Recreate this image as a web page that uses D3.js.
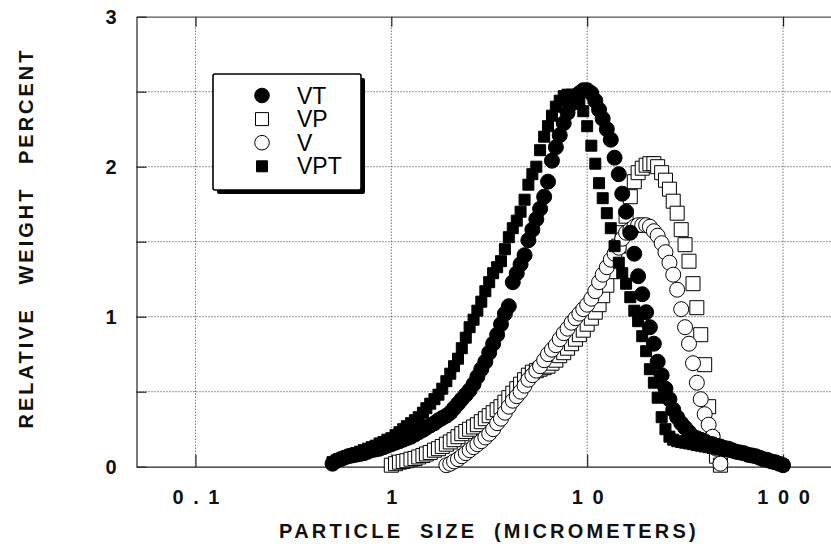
<!DOCTYPE html>
<html><head><meta charset="utf-8">
<script src="https://cdn.jsdelivr.net/npm/d3@7/dist/d3.min.js"></script>
<style>
body{margin:0;background:#fff}
svg{display:block}
text{font-family:"Liberation Sans",Arial,Helvetica,sans-serif}
</style>
</head><body>
<svg id="c" width="831" height="544"></svg>
<script>
// Particle size channels (micrometers)
const sizes=[0.501,0.525,0.550,0.575,0.603,0.631,0.661,0.692,0.724,0.759,0.794,0.832,0.871,0.912,0.955,
1.00,1.05,1.10,1.15,1.20,1.26,1.32,1.38,1.45,1.51,1.58,1.66,1.74,1.82,1.91,2.00,2.09,2.19,2.29,2.40,2.51,2.63,2.75,2.88,3.02,3.16,3.31,3.47,3.63,3.80,3.98,4.17,4.37,4.57,4.79,5.01,5.25,5.50,5.75,6.03,6.31,6.61,6.92,7.24,7.59,7.94,8.32,8.71,9.12,9.55,
10.0,10.5,11.0,11.5,12.0,12.6,13.2,13.8,14.5,15.1,15.8,16.6,17.4,18.2,19.1,20.0,20.9,21.9,22.9,24.0,25.1,26.3,27.5,28.8,30.2,31.6,33.1,34.7,36.3,38.0,39.8,41.7,43.7,45.7,47.9,50.1,52.5,55.0,57.5,60.3,63.1,66.1,69.2,72.4,75.9,79.4,83.2,87.1,91.2,95.5,100];

const VT=[0.02,0.04,0.05,0.06,0.07,0.075,0.08,0.085,0.09,0.10,0.11,0.115,0.12,0.13,0.14,
0.15,0.16,0.17,0.18,0.19, 0.20,0.215,0.23,0.245,0.26, 0.275,0.29,0.31,0.325,0.34, 0.36,0.39,0.42,0.45,0.48, 0.51,0.55,0.60,0.65,0.70, 0.76,0.82,0.88,0.95,1.02, 1.07,1.23,1.29,1.35,1.41, 1.51,1.58,1.65,1.72,1.80, 1.90,2.04,2.13,2.21,2.29, 2.36,2.42,2.46,2.49,2.51,
2.51,2.49,2.44,2.38,2.32, 2.25,2.18,2.06,1.95,1.82, 1.70,1.56,1.42,1.27,1.15, 1.03,0.93,0.82,0.70,0.61, 0.52,0.45,0.38,0.33,0.29, 0.26,0.23,0.20,0.19,0.18, 0.17,0.155,0.15,0.14,0.135, 0.125,0.12,0.11,0.10,0.095, 0.09,0.08,0.075,0.07,0.06, 0.05,0.045,0.035,0.03,0.02, 0.01];

const VPT=[0.03,0.04,0.05,0.06,0.07,0.08,0.09,0.10,0.11,0.12,0.13,0.14,0.155,0.165,0.18,
0.19,0.21,0.23,0.25,0.27, 0.29,0.31,0.33,0.36,0.39, 0.42,0.45,0.48,0.52,0.57, 0.62,0.67,0.72,0.79,0.86, 0.93,0.98,1.04,1.10,1.17, 1.23,1.29,1.33,1.37,1.45, 1.53,1.59,1.64,1.70,1.78, 1.88,1.95,2.00,2.11,2.20, 2.27,2.34,2.40,2.44,2.47, 2.48,2.48,2.46,2.42,2.37,
2.27,2.14,2.02,1.89,1.79, 1.69,1.59,1.47,1.36,1.29, 1.22,1.13,1.04,0.97,0.87, 0.77,0.65,0.56,0.46,0.33, 0.25,0.20,0.18,0.17,0.165, 0.16,0.155,0.15,0.145,0.14, 0.135,0.13,0.125,0.12,0.115, 0.11,0.105,0.10,0.095,0.09, 0.085,0.08,0.07,0.065,0.06, 0.05,0.045,0.035,0.03,0.02, 0.01];

const VP=[null,null,null,null,null,null,null,null,null,null,null,null,null,null,null,
0.01,0.02,0.03,0.035,0.04, 0.05,0.055,0.065,0.075,0.085, 0.095,0.11,0.12,0.135,0.15, 0.165,0.18,0.20,0.22,0.235, 0.25,0.265,0.28,0.30,0.32, 0.34,0.36,0.38,0.40,0.43, 0.46,0.49,0.52,0.55,0.58, 0.61,0.63,0.64,0.65,0.66, 0.67,0.69,0.71,0.74,0.76, 0.79,0.82,0.85,0.88,0.91,
0.95,0.99,1.03,1.08,1.14, 1.21,1.30,1.39,1.47,1.56, 1.67,1.80,1.90,1.96,1.99, 2.01,2.02,2.02,2.00,1.96, 1.91,1.85,1.77,1.69,1.58, 1.48,1.37,1.22,1.06,0.88, 0.68,0.40,0.18,0.07,0.01,
null,null,null,null,null,null,null,null,null,null,null,null,null,null,null,null];

const V=[null,null,null,null,null,null,null,null,null,null,null,null,null,null,null,
null,null,null,null,null,null,null,null,null,null,null,null,null,null,
0.01,0.02,0.035,0.05,0.07, 0.09,0.11,0.13,0.15,0.17, 0.195,0.22,0.25,0.29,0.32, 0.36,0.40,0.44,0.47,0.50, 0.54,0.58,0.61,0.64,0.67, 0.71,0.75,0.78,0.81,0.85, 0.89,0.92,0.96,0.99,1.02, 1.05,1.08,1.12,1.17,1.23, 1.28,1.33,1.38,1.42,1.46, 1.52,1.56,1.58,1.60,1.61, 1.61,1.61,1.60,1.57,1.54, 1.49,1.43,1.36,1.28,1.18, 1.05,0.93,0.82,0.69,0.56, 0.45,0.35,0.28,0.20,0.12, 0.02,
null,null,null,null,null,null,null,null,null,null,null,null,null,null,null,null];

const xTicks=[0.1,1,10,100];
const xTickLabels=["0 . 1","1","1 0","1 0 0"];
const yTicks=[0,0.5,1,1.5,2,2.5,3];
const yTickLabels=["0","","1","","2","","3"];
const legendNames=["VT","VP","V","VPT"];
const xTitle="PARTICLE SIZE (MICROMETERS)";
const yTitle="RELATIVE WEIGHT PERCENT";

const svg=d3.select("#c");
const x=d3.scaleLog().domain([0.05,200]).range([136.5,842]);
const y=d3.scaleLinear().domain([0,3]).range([466.7,16.7]);
const W=831;

// grid
const grid=svg.append("g").attr("stroke","#333").attr("stroke-width",1).attr("stroke-dasharray","1,2");
grid.selectAll("line.v").data(xTicks).join("line")
  .attr("x1",d=>x(d)).attr("x2",d=>x(d)).attr("y1",y(0)).attr("y2",y(3));
grid.selectAll("line.h").data(yTicks.filter(d=>d>0&&d<3)).join("line")
  .attr("x1",x(0.05)).attr("x2",W).attr("y1",d=>y(d)).attr("y2",d=>y(d));

// axes
function styleAxis(g){
  g.select(".domain").attr("stroke","#222").attr("stroke-width",1.2);
  g.selectAll(".tick line").attr("stroke","#222").attr("stroke-width",1.2);
  g.selectAll("text").attr("font-family","'Liberation Sans',Arial,sans-serif")
   .attr("font-weight","bold").attr("font-size",20).attr("fill","#111");
}
const gx=svg.append("g").attr("transform",`translate(0,${y(0)})`)
  .call(d3.axisBottom(x).tickValues(xTicks).tickSize(-12).tickSizeOuter(0).tickPadding(23)
    .tickFormat((d,i)=>xTickLabels[i]));
styleAxis(gx);
gx.selectAll("text").attr("letter-spacing",2).attr("dx",1).style("white-space","pre");
const gt=svg.append("g").attr("transform",`translate(0,${y(3)})`)
  .call(d3.axisTop(x).tickValues(xTicks).tickSize(-10).tickSizeOuter(0).tickFormat(""));
styleAxis(gt);
gt.select(".domain").attr("stroke","#555");
const gy=svg.append("g").attr("transform",`translate(${x(0.05)},0)`)
  .call(d3.axisLeft(y).tickValues(yTicks).tickSize(-10).tickSizeOuter(0).tickPadding(20)
    .tickFormat((d,i)=>yTickLabels[i]));
styleAxis(gy);

// series
const series=[
  {name:"VP",vals:VP,type:d3.symbolSquare,size:196,fill:"#fff"},
  {name:"V",vals:V,type:d3.symbolCircle,size:Math.PI*7.5*7.5,fill:"#fff"},
  {name:"VT",vals:VT,type:d3.symbolCircle,size:Math.PI*7.5*7.5,fill:"#000"},
  {name:"VPT",vals:VPT,type:d3.symbolSquare,size:121,fill:"#000"}
];
series.forEach(s=>{
  const pts=sizes.map((sz,i)=>({sz,v:s.vals[i]})).filter(d=>d.v!==null);
  svg.append("g").selectAll("path").data(pts).join("path")
    .attr("d",d3.symbol().type(s.type).size(s.size))
    .attr("transform",d=>`translate(${x(d.sz)},${y(d.v)})`)
    .attr("fill",s.fill).attr("stroke","#000").attr("stroke-width",1);
});

// legend
const lg=svg.append("g");
lg.append("rect").attr("x",217).attr("y",78).attr("width",148).attr("height",116).attr("fill","#000").attr("rx",2);
lg.append("rect").attr("x",213).attr("y",74).attr("width",148).attr("height",116).attr("fill","#fff")
  .attr("stroke","#000").attr("stroke-width",1.6).attr("rx",2);
const lookup={};series.forEach(s=>lookup[s.name]=s);
legendNames.forEach((n,i)=>{
  const s=lookup[n], cy=95.5+i*23.6;
  const sz = n==="VP"?169:(n==="VPT"?121:Math.PI*7.3*7.3);
  lg.append("path").attr("d",d3.symbol().type(s.type).size(sz)).attr("transform",`translate(262,${cy})`)
    .attr("fill",s.fill).attr("stroke","#000").attr("stroke-width",1);
  lg.append("text").attr("x",297).attr("y",cy+8).attr("font-size",23).attr("fill","#000").text(n);
});

// titles
svg.append("text").attr("x",489).attr("y",538).attr("text-anchor","middle")
  .attr("font-size",20).attr("font-weight","bold").attr("letter-spacing",3.2).attr("word-spacing",8)
  .attr("fill","#111").text(xTitle);
svg.append("text").attr("transform","translate(33,238) rotate(-90)").attr("text-anchor","middle")
  .attr("font-size",20).attr("font-weight","bold").attr("letter-spacing",3).attr("word-spacing",14)
  .attr("fill","#111").text(yTitle);
</script>
</body></html>
